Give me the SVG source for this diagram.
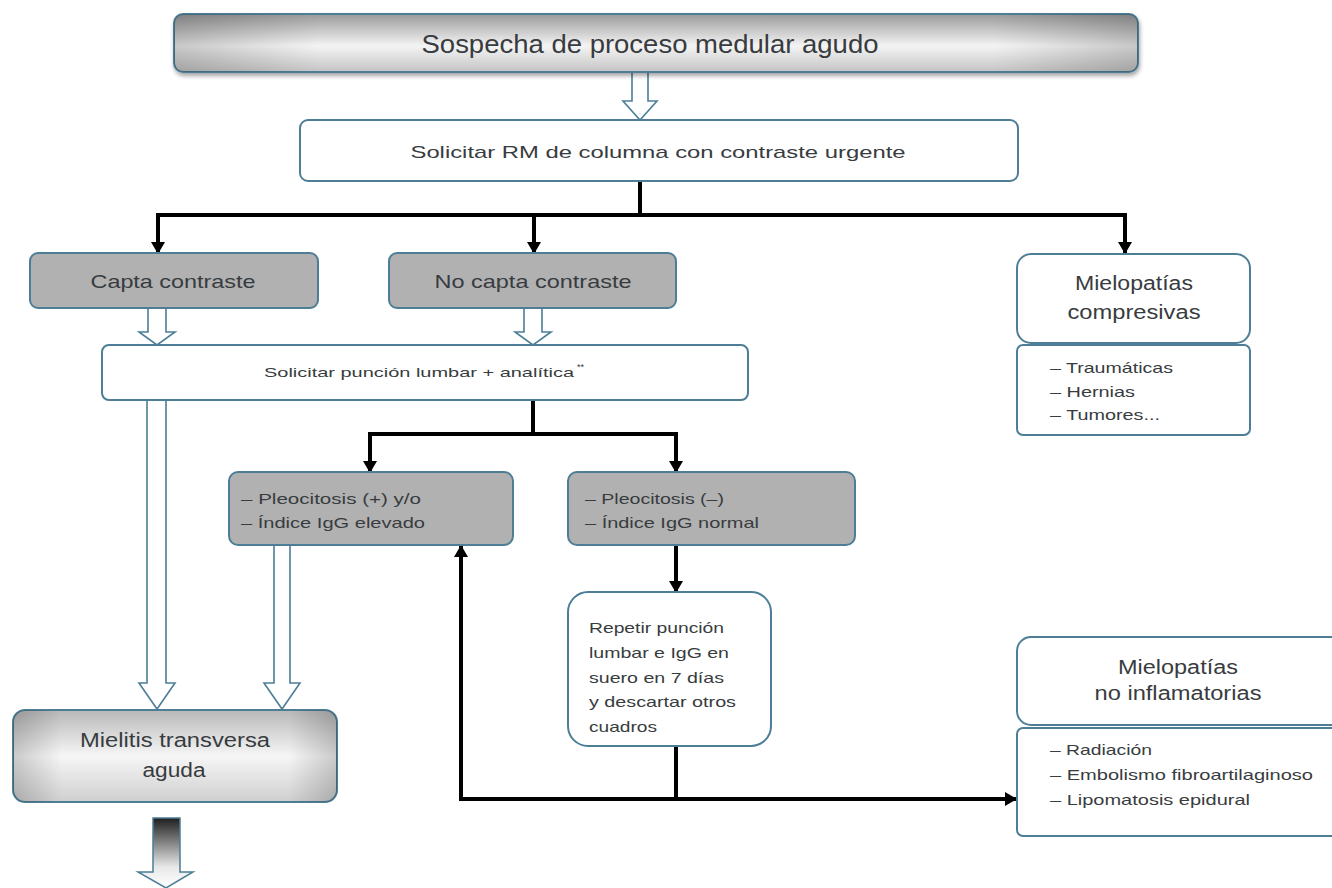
<svg xmlns="http://www.w3.org/2000/svg" width="1332" height="888" viewBox="0 0 1332 888">
<defs>
<linearGradient id="gTop" x1="0" y1="0" x2="0" y2="1">
<stop offset="0" stop-color="#9a9a9a"/>
<stop offset="0.55" stop-color="#f4f4f4"/>
<stop offset="1" stop-color="#c4c4c4"/>
</linearGradient>
<linearGradient id="gMie" x1="0" y1="0" x2="0" y2="1">
<stop offset="0" stop-color="#b8b8b8"/>
<stop offset="0.5" stop-color="#f6f6f6"/>
<stop offset="1" stop-color="#cfcfcf"/>
</linearGradient>
<linearGradient id="gSide" x1="0" y1="0" x2="1" y2="0">
<stop offset="0" stop-color="#000" stop-opacity="0.18"/>
<stop offset="0.15" stop-color="#000" stop-opacity="0"/>
<stop offset="0.85" stop-color="#000" stop-opacity="0"/>
<stop offset="1" stop-color="#000" stop-opacity="0.18"/>
</linearGradient>
<linearGradient id="gArrow" x1="0" y1="0" x2="0" y2="1">
<stop offset="0" stop-color="#1e1e1e"/>
<stop offset="0.7" stop-color="#e8e8e8"/>
<stop offset="1" stop-color="#ffffff"/>
</linearGradient>
<marker id="ah" viewBox="0 0 12 14" refX="11" refY="7" markerWidth="12" markerHeight="14" markerUnits="userSpaceOnUse" orient="auto">
<path d="M0,0 L12,7 L0,14 Z" fill="#000"/>
</marker>
<filter id="sh" x="-5%" y="-20%" width="110%" height="150%">
<feDropShadow dx="1" dy="3" stdDeviation="2" flood-color="#000" flood-opacity="0.35"/>
</filter>
</defs>
<style>
.box{stroke:#4d7e96;stroke-width:2}
.gray{fill:#b1b1b1}
.white{fill:#ffffff}
.t{font-family:"Liberation Sans",Arial,sans-serif;fill:#383c40;}
.c{text-anchor:middle}
.hollow{fill:#ffffff;stroke:#4d7e96;stroke-width:1.6;stroke-linejoin:miter}
.conn{fill:none;stroke:#000;stroke-width:4}
</style>
<rect width="1332" height="888" fill="#ffffff"/>

<g id="connectors">
<path class="hollow" d="M632,72 L632,101 L623,101 L640,120 L657,101 L648,101 L648,72"/>
<path class="hollow" d="M148,308 L148,332 L139,332 L157,345 L175,332 L166,332 L166,308"/>
<path class="hollow" d="M524,308 L524,332 L515,332 L533,345 L551,332 L542,332 L542,308"/>
<path class="hollow" d="M147,400 L147,683 L139,683 L157,709 L175,683 L166,683 L166,400"/>
<path class="hollow" d="M274,545 L274,683 L264,683 L282,709 L300,683 L290,683 L290,545"/>
<path class="conn" d="M640,181 L640,215"/>
<path class="conn" d="M158,215 L1125,215"/>
<path class="conn" d="M158,213 L158,253" marker-end="url(#ah)"/>
<path class="conn" d="M534,215 L534,253" marker-end="url(#ah)"/>
<path class="conn" d="M1125,213 L1125,253" marker-end="url(#ah)"/>
<path class="conn" d="M533,400 L533,434"/>
<path class="conn" d="M370,434 L676,434"/>
<path class="conn" d="M370,432 L370,472" marker-end="url(#ah)"/>
<path class="conn" d="M676,432 L676,472" marker-end="url(#ah)"/>
<path class="conn" d="M676,545 L676,592" marker-end="url(#ah)"/>
<path class="conn" d="M676,746 L676,799"/>
<path class="conn" d="M461,799 L1016,799" marker-end="url(#ah)"/>
<path class="conn" d="M461,801 L461,546" marker-end="url(#ah)"/>
<path d="M153,818 L180,818 L180,872 L193,872 L166,888 L138,872 L153,872 Z" fill="url(#gArrow)" stroke="#4d7e96" stroke-width="1.5"/>
</g>

<g id="n-sospecha">
<rect class="box" x="174" y="14" width="964" height="58" rx="9" fill="url(#gTop)" filter="url(#sh)"/>
<rect x="174" y="14" width="964" height="58" rx="9" fill="url(#gSide)"/>
<text class="t c" x="650" y="53" font-size="25" textLength="457" lengthAdjust="spacingAndGlyphs">Sospecha de proceso medular agudo</text>
</g>

<g id="n-rm">
<rect class="box white" x="300" y="120" width="718" height="61" rx="8"/>
<text class="t c" x="658" y="158" font-size="17" textLength="495" lengthAdjust="spacingAndGlyphs">Solicitar RM de columna con contraste urgente</text>
</g>

<g id="n-capta">
<rect class="box gray" x="30" y="253" width="288" height="55" rx="8"/>
<text class="t c" x="173" y="288" font-size="19" textLength="165" lengthAdjust="spacingAndGlyphs">Capta contraste</text>
</g>

<g id="n-nocapta">
<rect class="box gray" x="389" y="253" width="287" height="55" rx="8"/>
<text class="t c" x="533" y="288" font-size="19" textLength="197" lengthAdjust="spacingAndGlyphs">No capta contraste</text>
</g>

<g id="n-compresivas">
<rect class="box white" x="1017" y="254" width="233" height="89" rx="14"/>
<text class="t c" x="1134" y="290" font-size="20" textLength="118" lengthAdjust="spacingAndGlyphs">Mielopatías</text>
<text class="t c" x="1134" y="319" font-size="20" textLength="133" lengthAdjust="spacingAndGlyphs">compresivas</text>
<rect class="box white" x="1017" y="345" width="233" height="90" rx="6"/>
<text class="t" x="1050" y="373" font-size="15" textLength="123" lengthAdjust="spacingAndGlyphs">– Traumáticas</text>
<text class="t" x="1050" y="397" font-size="15" textLength="85" lengthAdjust="spacingAndGlyphs">– Hernias</text>
<text class="t" x="1050" y="420" font-size="15" textLength="110" lengthAdjust="spacingAndGlyphs">– Tumores...</text>
</g>

<g id="n-puncion">
<rect class="box white" x="102" y="345" width="646" height="55" rx="7"/>
<text class="t" x="264" y="377" font-size="13.5" textLength="310" lengthAdjust="spacingAndGlyphs">Solicitar punción lumbar + analítica</text>
<text class="t" x="577" y="370" font-size="9">**</text>
</g>

<g id="n-pleo-pos">
<rect class="box gray" x="229" y="472" width="284" height="73" rx="9"/>
<text class="t" x="241" y="504" font-size="15" textLength="180" lengthAdjust="spacingAndGlyphs">– Pleocitosis (+) y/o</text>
<text class="t" x="241" y="528" font-size="15" textLength="184" lengthAdjust="spacingAndGlyphs">– Índice IgG elevado</text>
</g>

<g id="n-pleo-neg">
<rect class="box gray" x="568" y="472" width="287" height="73" rx="9"/>
<text class="t" x="585" y="504" font-size="15" textLength="139" lengthAdjust="spacingAndGlyphs">– Pleocitosis (–)</text>
<text class="t" x="585" y="528" font-size="15" textLength="174" lengthAdjust="spacingAndGlyphs">– Índice IgG normal</text>
</g>

<g id="n-repetir">
<rect class="box white" x="568" y="592" width="203" height="154" rx="20"/>
<text class="t" x="589" y="633" font-size="14.5" textLength="135" lengthAdjust="spacingAndGlyphs">Repetir punción</text>
<text class="t" x="589" y="658" font-size="14.5" textLength="140" lengthAdjust="spacingAndGlyphs">lumbar e IgG en</text>
<text class="t" x="589" y="683" font-size="14.5" textLength="135" lengthAdjust="spacingAndGlyphs">suero en 7 días</text>
<text class="t" x="589" y="707" font-size="14.5" textLength="147" lengthAdjust="spacingAndGlyphs">y descartar otros</text>
<text class="t" x="589" y="732" font-size="14.5" textLength="68" lengthAdjust="spacingAndGlyphs">cuadros</text>
</g>

<g id="n-noinflam">
<rect class="box white" x="1017" y="637" width="330" height="88" rx="14"/>
<text class="t c" x="1178" y="674" font-size="20" textLength="120" lengthAdjust="spacingAndGlyphs">Mielopatías</text>
<text class="t c" x="1178" y="700" font-size="20" textLength="167" lengthAdjust="spacingAndGlyphs">no inflamatorias</text>
<rect class="box white" x="1017" y="728" width="330" height="108" rx="6"/>
<text class="t" x="1050" y="755" font-size="15" textLength="102" lengthAdjust="spacingAndGlyphs">– Radiación</text>
<text class="t" x="1050" y="780" font-size="15" textLength="263" lengthAdjust="spacingAndGlyphs">– Embolismo fibroartilaginoso</text>
<text class="t" x="1050" y="805" font-size="15" textLength="200" lengthAdjust="spacingAndGlyphs">– Lipomatosis epidural</text>
</g>

<g id="n-mielitis">
<rect class="box" x="13" y="710" width="324" height="92" rx="12" fill="url(#gMie)"/>
<rect x="13" y="710" width="324" height="92" rx="12" fill="url(#gSide)"/>
<text class="t c" x="175" y="747" font-size="20" textLength="190" lengthAdjust="spacingAndGlyphs">Mielitis transversa</text>
<text class="t c" x="174" y="777" font-size="20" textLength="63" lengthAdjust="spacingAndGlyphs">aguda</text>
</g>
</svg>
